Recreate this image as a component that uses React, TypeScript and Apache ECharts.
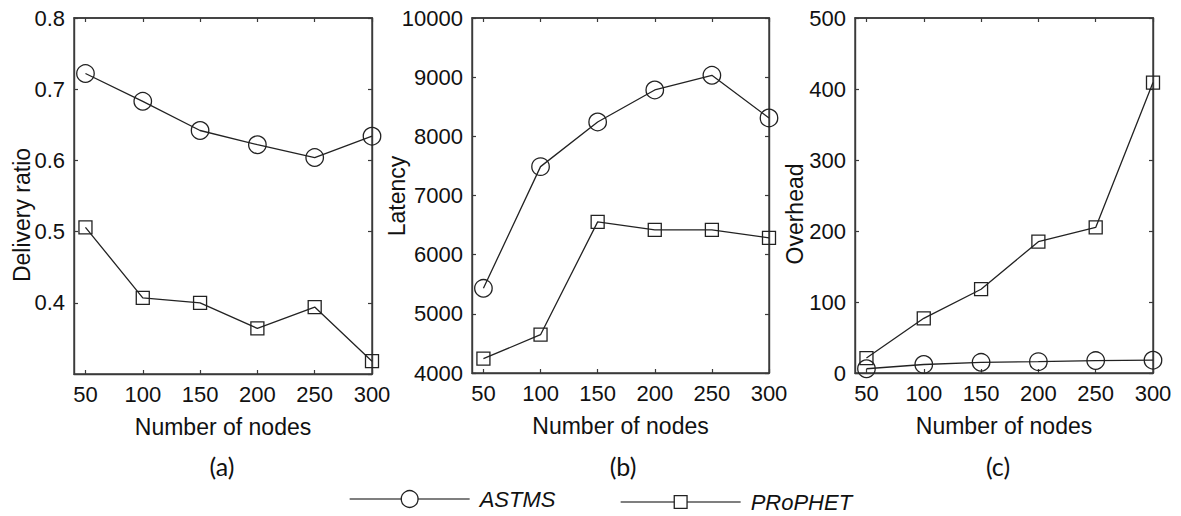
import React, { useEffect, useRef } from "react";
import * as echarts from "echarts";

const nodes = [50, 100, 150, 200, 250, 300];
const deliveryASTMS = [0.722, 0.683, 0.642, 0.622, 0.604, 0.634];
const deliveryPRoPHET = [0.506, 0.407, 0.4, 0.364, 0.394, 0.318];
const latencyASTMS = [5431, 7488, 8243, 8784, 9032, 8311];
const latencyPRoPHET = [4242, 4647, 6554, 6419, 6419, 6284];
const overheadASTMS = [6, 12, 15, 16, 17.5, 18];
const overheadPRoPHET = [21, 77, 118, 185, 205, 409];
const xTicks = [50, 100, 150, 200, 250, 300];
const panelLabels = ["(a)", "(b)", "(c)"];
const yTitles = ["Delivery ratio", "Latency", "Overhead"];
const xTitle = "Number of nodes";
const seriesNames = ["ASTMS", "PRoPHET"];

const FONT = "Liberation Sans";
const AXIS_COLOR = "#3a3a3a";
const TEXT_COLOR = "#111";
const LINE_COLOR = "#222";

const grids = [
  { left: 74, top: 18, width: 298, height: 356 },
  { left: 472, top: 18, width: 297, height: 355 },
  { left: 855, top: 18, width: 298, height: 355 },
];
const yRanges = [
  { min: 0.3, max: 0.8, interval: 0.1 },
  { min: 4000, max: 10000, interval: 1000 },
  { min: 0, max: 500, interval: 100 },
];
const yTitlePos = [
  [22, 215],
  [397, 196],
  [795, 214],
];
const labelPos = [
  [222, 466],
  [623, 466],
  [998, 466],
];

export default function App() {
  const ref = useRef<HTMLDivElement>(null);
  useEffect(() => {
    if (!ref.current) return;
    const chart = echarts.init(ref.current, null, { renderer: "svg" });
    const xAxis: any[] = [];
    const yAxis: any[] = [];
    const series: any[] = [];
    const data = [
      [deliveryASTMS, deliveryPRoPHET],
      [latencyASTMS, latencyPRoPHET],
      [overheadASTMS, overheadPRoPHET],
    ];
    const lineAxis = { show: true, onZero: false, lineStyle: { color: AXIS_COLOR, width: 1.4 } };
    const tick = { show: true, inside: true, length: 4, lineStyle: { color: AXIS_COLOR, width: 1.2 } };
    const numFmt = (v: number) => String(Math.round(v * 1000) / 1000);
    grids.forEach((g, i) => {
      xAxis.push({
        type: "value", gridIndex: i, position: "bottom", min: 40, max: 300,
        axisLine: lineAxis,
        axisTick: { ...tick, customValues: xTicks },
        axisLabel: { customValues: xTicks, color: TEXT_COLOR, fontSize: 22, fontFamily: FONT, margin: 9, formatter: numFmt },
        splitLine: { show: false },
        name: xTitle, nameLocation: "middle", nameGap: 41,
        nameTextStyle: { color: TEXT_COLOR, fontSize: 23, fontFamily: FONT },
      });
      xAxis.push({
        type: "value", gridIndex: i, position: "top", min: 40, max: 300,
        axisLine: { show: true, onZero: false, lineStyle: { color: AXIS_COLOR, width: 1.6 } },
        axisTick: { ...tick, customValues: xTicks },
        axisLabel: { show: true, customValues: xTicks, formatter: () => "", fontSize: 1 },
        splitLine: { show: false },
      });
      const r = yRanges[i];
      yAxis.push({
        type: "value", gridIndex: i, position: "left", min: r.min, max: r.max, interval: r.interval,
        axisLine: lineAxis,
        axisTick: tick,
        axisLabel: { color: TEXT_COLOR, fontSize: 22, fontFamily: FONT, margin: 9, showMinLabel: i !== 0, formatter: numFmt },
        splitLine: { show: false },
      });
      yAxis.push({
        type: "value", gridIndex: i, position: "right", min: r.min, max: r.max, interval: r.interval,
        axisLine: lineAxis,
        axisTick: tick,
        axisLabel: { show: false },
        splitLine: { show: false },
      });
      data[i].forEach((vals, s) => {
        series.push({
          type: "line",
          name: seriesNames[s],
          xAxisIndex: 2 * i,
          yAxisIndex: 2 * i,
          data: nodes.map((n, k) => [n, vals[k]]),
          symbol: s === 0 ? "circle" : "rect",
          symbolSize: s === 0 ? 17.5 : 13,
          lineStyle: { color: LINE_COLOR, width: 1.3 },
          itemStyle: { color: "rgba(255,255,255,0)", borderColor: LINE_COLOR, borderWidth: 1.3 },
          emphasis: { disabled: true },
          clip: false,
          z: 3,
        });
      });
    });

    const graphic: any[] = [];
    yTitles.forEach((t, i) => {
      graphic.push({
        type: "text", x: yTitlePos[i][0], y: yTitlePos[i][1], rotation: Math.PI / 2,
        style: { text: t, fontSize: 23, fontFamily: FONT, fill: TEXT_COLOR, align: "center", verticalAlign: "middle" },
      });
    });
    panelLabels.forEach((t, i) => {
      graphic.push({
        type: "text", x: labelPos[i][0], y: labelPos[i][1],
        style: { text: t, fontSize: 25, fontFamily: "Lato", fill: TEXT_COLOR, align: "center", verticalAlign: "middle" },
      });
    });

    const legendText = { fontSize: 22, fontStyle: "italic", fontFamily: FONT, color: TEXT_COLOR, padding: [0, 4, 0, 5], lineHeight: 26 };
    chart.setOption({
      animation: false,
      backgroundColor: "#fff",
      grid: grids.map((g) => ({ ...g, containLabel: false, show: true, borderColor: AXIS_COLOR, borderWidth: 1.4, backgroundColor: "transparent" })),
      xAxis,
      yAxis,
      series,
      graphic,
      legend: [
        {
          data: [seriesNames[0]], left: 347, top: 484, itemWidth: 120, itemHeight: 21, itemGap: 0, padding: 2,
          textStyle: legendText, selectedMode: false,
          itemStyle: { color: "#fff", borderColor: LINE_COLOR, borderWidth: 1.3 },
          lineStyle: { color: "#555", width: 1.3 },
        },
        {
          data: [seriesNames[1]], left: 618, top: 487, itemWidth: 120, itemHeight: 16, itemGap: 0, padding: 2,
          textStyle: legendText, selectedMode: false,
          itemStyle: { color: "#fff", borderColor: LINE_COLOR, borderWidth: 1.3 },
          lineStyle: { color: "#555", width: 1.3 },
        },
      ],
    });
    return () => chart.dispose();
  }, []);
  return (
    <div
      ref={ref}
      style={{ position: "absolute", left: 0, top: 0, width: 1181, height: 516, background: "#fff" }}
    />
  );
}
